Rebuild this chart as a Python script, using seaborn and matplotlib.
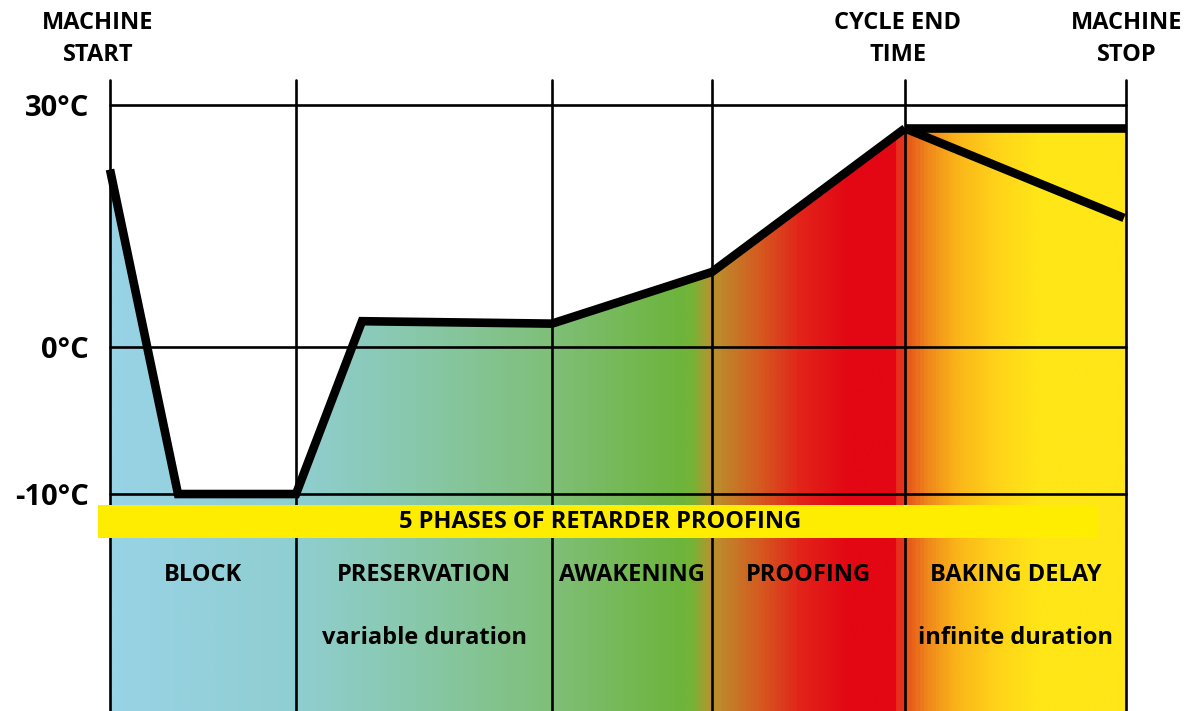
import numpy as np
import matplotlib
matplotlib.use("Agg")
import matplotlib.pyplot as plt
import matplotlib.transforms as mtransforms
from matplotlib.colors import LinearSegmentedColormap
import pandas as pd
import seaborn as sns

# ---- data -------------------------------------------------------------
phase_edges = [0, 18.6, 44.2, 60.2, 79.5, 101.6]
phase_names = ["BLOCK", "PRESERVATION", "AWAKENING", "PROOFING", "BAKING DELAY"]
phase_notes = ["", "variable duration", "", "", "infinite duration"]

cycle_time = [0, 6.8, 18.6, 25.2, 44.2, 60.2, 79.5]
cycle_temp = [22, -10, -10, 3.2, 2.9, 9.3, 27.1]

hold_time = [79.5, 101.6]
hold_temp = [27.1, 27.1]

cool_time = [79.5, 101.4]
cool_temp = [27.1, 16.0]

temp_ticks = [30, 0, -10]
temp_labels = ["30°C", "0°C", "-10°C"]

event_times = [0, 79.5, 101.6]
event_labels = ["MACHINE\nSTART", "CYCLE END\nTIME", "MACHINE\nSTOP"]
banner_text = "5 PHASES OF RETARDER PROOFING"

# ---- style ------------------------------------------------------------
sns.set_theme(style="white")
plt.rcParams["font.family"] = ["Open Sans", "DejaVu Sans"]
plt.rcParams["font.weight"] = "bold"
plt.rcParams["text.color"] = "black"
plt.rcParams["ytick.color"] = "black"
plt.rcParams["ytick.labelcolor"] = "black"

W, H, DPI = 1189, 711, 100
fig = plt.figure(figsize=(W / DPI, H / DPI), dpi=DPI)
ax = fig.add_axes([110 / W, 0, (1126 - 110) / W, (711 - 80) / H])

# piecewise-linear temperature axis (the cold part is stretched)
K_POS, K_NEG = 242 / 30, 14.7


def fwd(t):
    t = np.asarray(t, dtype=float)
    return np.where(t >= 0, t * K_POS, t * K_NEG)


def inv(u):
    u = np.asarray(u, dtype=float)
    return np.where(u >= 0, u / K_POS, u / K_NEG)


ax.set_yscale("function", functions=(fwd, inv))
x0, x1 = phase_edges[0], phase_edges[-1]
ax.set_xlim(x0, x1)
ax.set_ylim(-24.76, 33.1)

# ---- gradient fill under the temperature envelope ---------------------
def px(p):
    return (p - 110) / (1126 - 110)


stops = [
    (110, "#98d3e6"), (296, "#8fced0"), (400, "#89c9b0"), (552, "#7fbf78"),
    (680, "#6db43c"), (692, "#74b437"), (712, "#b8922e"), (760, "#d55a20"),
    (800, "#e2241a"), (850, "#e30613"), (896, "#e30613"), (897, "#e6301c"),
    (905, "#e6301c"), (906, "#e6501a"), (930, "#f08a1c"), (960, "#fbb719"),
    (1000, "#ffd419"), (1040, "#ffe617"), (1126, "#ffe617"),
]
cmap = LinearSegmentedColormap.from_list("phases", [(px(p), c) for p, c in stops])

env_time = cycle_time + [hold_time[-1]]
env_temp = cycle_temp + [hold_temp[-1]]
ymin = ax.get_ylim()[0]
poly = ax.fill_between(env_time, env_temp, ymin, color="none", lw=0, zorder=1)

grad = np.linspace(0, 1, 1200).reshape(1, -1)
img = ax.imshow(grad, cmap=cmap, aspect="auto", extent=[x0, x1, ymin, 33.1],
                interpolation="bilinear", zorder=1)
img.set_clip_path(poly.get_paths()[0], transform=ax.transData)
ax.set_xlim(x0, x1)
ax.set_ylim(-24.76, 33.1)

# ---- grid -------------------------------------------------------------
for t in temp_ticks:
    ax.axhline(t, color="black", lw=1.9, zorder=2, clip_on=False)
for e in phase_edges:
    ax.axvline(e, color="black", lw=1.9, zorder=2, clip_on=False)

# ---- banner -----------------------------------------------------------
ax.fill_between([-1.2, 98.7], -13.0, -10.75, color="#ffed00", lw=0,
                zorder=3, clip_on=False)
ax.text(49.0, -11.87, banner_text, ha="center", va="center", fontsize=17,
        fontweight="bold", color="black", zorder=6)

# ---- temperature curve ------------------------------------------------
curve = pd.DataFrame({"time": cycle_time, "temp": cycle_temp})
hold = pd.DataFrame({"time": hold_time, "temp": hold_temp})
cool = pd.DataFrame({"time": cool_time, "temp": cool_temp})
line_kw = dict(color="black", lw=6.2, sort=False, estimator=None, zorder=5,
               solid_joinstyle="miter", solid_capstyle="butt")
for df in (curve, hold, cool):
    sns.lineplot(data=df, x="time", y="temp", ax=ax, **line_kw)
for ln in ax.lines[-3:]:
    ln.set_clip_on(False)

# ---- labels -----------------------------------------------------------
ax.set_yticks(temp_ticks)
ax.set_yticklabels(temp_labels, fontsize=21, fontweight="bold", color="black")
ax.tick_params(axis="y", length=0, pad=15)
ax.set_xticks([])
ax.set_xlabel("")
ax.set_ylabel("")
for s in ax.spines.values():
    s.set_visible(False)

for i, name in enumerate(phase_names):
    xc = (phase_edges[i] + phase_edges[i + 1]) / 2
    ax.text(xc, -15.5, name, ha="center", va="center", fontsize=17,
            fontweight="bold", color="black", zorder=6)
    if phase_notes[i]:
        ax.text(xc, -19.8, phase_notes[i], ha="center", va="center",
                fontsize=17, fontweight="bold", color="black", zorder=6)

top = mtransforms.blended_transform_factory(ax.transData, fig.transFigure)
offsets = [-1.2, -0.7, 0.1]
for t, lab, off in zip(event_times, event_labels, offsets):
    ax.text(t + off, 1 - 39 / H, lab, transform=top, ha="center", va="center",
            fontsize=17, fontweight="bold", color="black", linespacing=1.4)

fig.savefig("out.png", dpi=DPI)
